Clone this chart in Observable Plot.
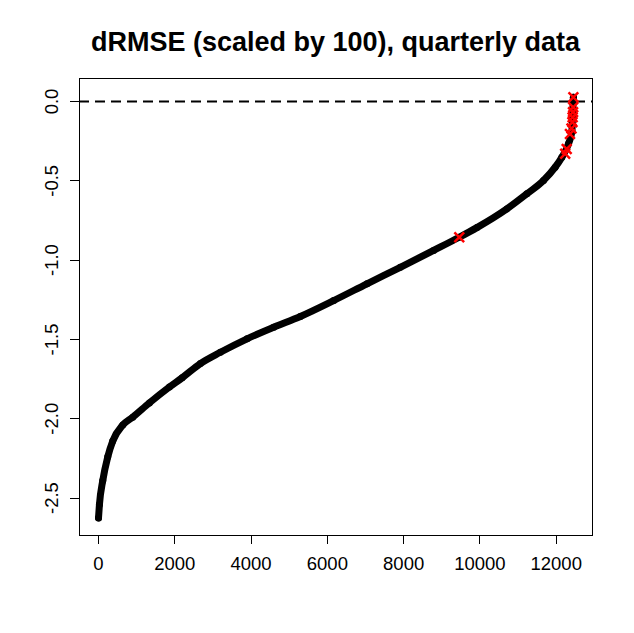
<!DOCTYPE html>
<html><head><meta charset="utf-8">
<script src="https://cdn.jsdelivr.net/npm/d3@7"></script>
<script src="https://cdn.jsdelivr.net/npm/@observablehq/plot@0.6"></script>
<style>
body{margin:0;background:#fff;}
#title{height:60px;box-sizing:border-box;padding-top:29px;margin-left:79px;width:513px;text-align:center;font:bold 27px/27px "Liberation Sans",Arial,sans-serif;color:#000;white-space:nowrap;}
</style></head><body>
<div id="title">dRMSE (scaled by 100), quarterly data</div>
<div id="chart"></div>
<script>
// Sorted dRMSE values at their rank index
const rankIndex = [1, 26, 113, 244, 375, 637, 899, 1336, 1860, 2193, 2672, 3196, 3896, 4593, 5292, 6165, 7039, 7912, 8785, 9458, 9921, 10707, 11231, 11666, 11973, 12148, 12321, 12410, 12430, 12450];
const dRMSE = [-2.625, -2.54, -2.39, -2.24, -2.14, -2.04, -1.99, -1.90, -1.80, -1.742, -1.652, -1.581, -1.496, -1.423, -1.355, -1.255, -1.149, -1.045, -0.939, -0.856, -0.795, -0.677, -0.582, -0.498, -0.414, -0.351, -0.267, -0.19, -0.078, 0.027];
// Highlighted (red x) observations
const flaggedIndex = [9458, 12235, 12275, 12360, 12400, 12425, 12430, 12440, 12445, 12450];
const flaggedValue = [-0.856, -0.33, -0.30, -0.205, -0.17, -0.13, -0.10, -0.067, -0.036, 0.027];
// Axis ticks
const xTicks = [0, 2000, 4000, 6000, 8000, 10000, 12000];
const yTicks = [0.0, -0.5, -1.0, -1.5, -2.0, -2.5];
const xDomain = [-497, 12951];
const yDomain = [-2.736, 0.145];

const curve = rankIndex.map((x, i) => ({x, y: dRMSE[i]}));
const flagged = flaggedIndex.map((x, i) => ({x, y: flaggedValue[i]}));

const chart = Plot.plot({
  width: 634,
  height: 573,
  marginTop: 18,
  marginBottom: 98,
  marginLeft: 79,
  marginRight: 42,
  style: {fontFamily: "'Liberation Sans', Arial, sans-serif", fontSize: "18.5px", background: "#fff", color: "#000"},
  x: {domain: xDomain},
  y: {domain: yDomain},
  marks: [
    Plot.ruleY([0], {stroke: "black", strokeWidth: 2, strokeDasharray: "10,6"}),
    Plot.line(curve, {x: "x", y: "y", stroke: "black", strokeWidth: 7, strokeLinecap: "round", strokeLinejoin: "round", curve: "monotone-x"}),
    Plot.dot(curve, {x: "x", y: "y", r: 3.5, fill: "black"}),
    Plot.dot(flagged, {x: "x", y: "y", symbol: "times", r: 4.5, stroke: "#ff0000", strokeWidth: 2.5}),
    Plot.axisX({ticks: xTicks, tickSize: 9, tickPadding: 12, fontSize: 18.5, tickFormat: d => String(d), label: null, shapeRendering: "crispEdges"}),
    Plot.axisY({ticks: yTicks, tickSize: 9, tickPadding: 13, tickRotate: -90, fontSize: 18.5, tickFormat: d => d.toFixed(1), label: null, shapeRendering: "crispEdges"}),
    Plot.frame({stroke: "black", strokeWidth: 1, shapeRendering: "crispEdges"})
  ]
});
document.getElementById("chart").appendChild(chart);
</script>
</body></html>
